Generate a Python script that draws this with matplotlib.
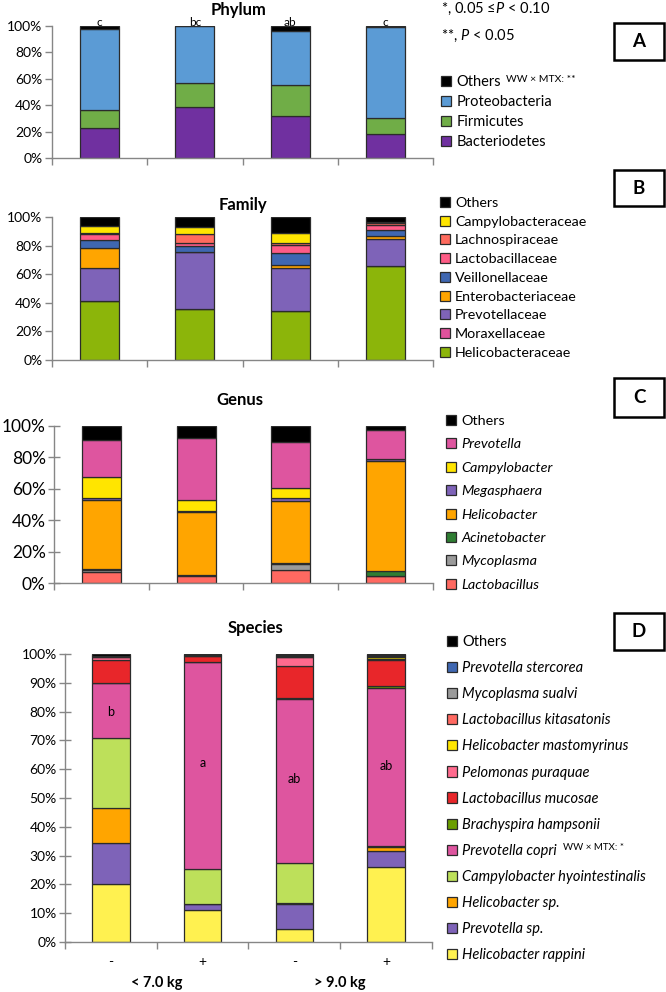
import numpy as np
import matplotlib.pyplot as plt
from matplotlib.patches import Patch, Rectangle

plt.rcParams['font.family'] = ['Lato', 'DejaVu Sans']
plt.rcParams['mathtext.fontset'] = 'custom'
plt.rcParams['mathtext.rm'] = 'Lato'
plt.rcParams['mathtext.it'] = 'Lato:italic'

# ---- data (% relative abundance, bars: <7.0 kg -, <7.0 kg +, >9.0 kg -, >9.0 kg +)
treat = ["-", "+", "-", "+"]
groups = ["< 7.0 kg", "> 9.0 kg"]

phylum_names = ["Bacteriodetes", "Firmicutes", "Proteobacteria", "Others"]
phylum_colors = ["#7030A0", "#70AD47", "#5B9BD5", "#000000"]
phylum_vals = [
    [22.7, 39.0, 31.6, 18.2],
    [13.3, 17.5, 23.4, 11.8],
    [62.0, 43.2, 41.0, 69.6],
    [2.0, 0.3, 4.0, 0.4],
]
phylum_letters = ["c", "bc", "ab", "c"]

family_names = ["Helicobacteraceae", "Moraxellaceae", "Prevotellaceae",
                "Enterobacteriaceae", "Veillonellaceae", "Lactobacillaceae",
                "Lachnospiraceae", "Campylobacteraceae", "Others"]
family_colors = ["#8CB50A", "#E0529C", "#7E63B8", "#FFA500", "#3F67B1",
                 "#FF5C86", "#FF6B5E", "#FFE500", "#000000"]
family_vals = [
    [41.0, 35.5, 34.3, 65.4],
    [0.3, 0.2, 0.2, 0.2],
    [23.0, 39.8, 29.8, 19.2],
    [14.0, 0.3, 1.9, 1.6],
    [5.5, 3.9, 8.4, 4.2],
    [4.0, 2.3, 6.0, 4.0],
    [1.3, 6.0, 1.5, 1.2],
    [4.9, 5.0, 6.6, 0.4],
    [6.0, 7.0, 11.3, 3.8],
]

genus_names = ["Lactobacillus", "Mycoplasma", "Acinetobacter", "Helicobacter",
               "Megasphaera", "Campylobacter", "Prevotella", "Others"]
genus_colors = ["#FF6961", "#9A9A9A", "#2E7D32", "#FFA500", "#7E63B8",
                "#FFE500", "#DE559F", "#000000"]
genus_vals = [
    [7.2, 4.7, 8.5, 4.2],
    [0.8, 0.2, 3.8, 0.4],
    [0.8, 0.2, 0.3, 2.8],
    [44.0, 40.4, 39.5, 70.3],
    [1.5, 0.3, 2.3, 1.2],
    [13.5, 7.2, 6.2, 0.3],
    [23.0, 39.6, 29.4, 18.3],
    [9.2, 7.4, 10.0, 2.5],
]

species_names = ["Helicobacter rappini", "Prevotella sp.", "Helicobacter sp.",
                 "Campylobacter hyointestinalis", "Prevotella copri",
                 "Brachyspira hampsonii", "Lactobacillus mucosae",
                 "Pelomonas puraquae", "Helicobacter mastomyrinus",
                 "Lactobacillus kitasatonis", "Mycoplasma sualvi",
                 "Prevotella stercorea", "Others"]
species_colors = ["#FFF150", "#7E63B8", "#FFA500", "#BDE05A", "#DE559F",
                  "#6B9E00", "#E8262A", "#FF6A8E", "#FFE500", "#FF6961",
                  "#9A9A9A", "#3F67B1", "#000000"]
species_vals = [
    [20.2, 11.1, 4.5, 26.0],
    [14.1, 2.0, 8.7, 5.5],
    [12.1, 0.2, 0.2, 1.5],
    [24.5, 12.1, 14.2, 0.3],
    [18.9, 71.8, 56.9, 55.0],
    [0.2, 0.1, 0.1, 0.7],
    [8.0, 2.0, 11.4, 9.0],
    [1.0, 0.1, 3.0, 0.3],
    [0.1, 0.2, 0.1, 0.5],
    [0.1, 0.0, 0.1, 0.3],
    [0.1, 0.0, 0.2, 0.3],
    [0.1, 0.0, 0.1, 0.1],
    [0.6, 0.4, 0.5, 0.5],
]
species_letters = ["b", "a", "ab", "ab"]
species_letter_y = [80, 62, 56.5, 61]

AX_GRAY = "#868686"
EDGE = "#2b2b2b"


def stacked(ax, names, vals, colors, ticks, tickfs, tickdir):
    x = np.arange(len(treat)) + 0.5
    bottom = np.zeros(len(treat))
    for name, v, c in zip(names, vals, colors):
        v = np.array(v) / 100
        ax.bar(x, v, 0.41, bottom=bottom, color=c, edgecolor=EDGE,
               linewidth=0.9, zorder=3)
        bottom += v
    ax.set_xlim(0, 4)
    ax.set_ylim(0, 1)
    ax.set_yticks(ticks)
    ax.set_yticklabels(["%d%%" % round(t * 100) for t in ticks], fontsize=tickfs)
    ax.set_xticks([0, 1, 2, 3, 4])
    ax.set_xticklabels([])
    for s in ["top", "right"]:
        ax.spines[s].set_visible(False)
    for s in ["left", "bottom"]:
        ax.spines[s].set_color(AX_GRAY)
        ax.spines[s].set_linewidth(1.0)
    ax.tick_params(axis="y", direction=tickdir, length=5 if tickdir == "out" else 8,
                   color=AX_GRAY, width=1.0, pad=2)
    ax.tick_params(axis="x", direction="out", length=5, color=AX_GRAY, width=1.0)
    ax.spines["bottom"].set_zorder(5)


def legend(fig, names, colors, x, y, fs, spacing, italic=False):
    h = [Patch(facecolor=c, edgecolor=EDGE, linewidth=0.9) for c in colors]
    leg = fig.legend(h[::-1], names[::-1], loc="upper left", bbox_to_anchor=(x, y),
                     bbox_transform=fig.transFigure, frameon=False, fontsize=fs,
                     borderpad=0, borderaxespad=0, handlelength=0.7,
                     handleheight=0.7, handletextpad=0.35, labelspacing=spacing)
    if italic:
        for t in leg.get_texts():
            if t.get_text() != "Others":
                t.set_fontstyle("italic")
    return leg


def boxed(fig, letter, x0, y0, x1, y1):
    fig.add_artist(Rectangle((x0 / W, 1 - y1 / H), (x1 - x0) / W, (y1 - y0) / H,
                             transform=fig.transFigure, fill=False,
                             edgecolor="black", linewidth=1.8))
    fig.text((x0 + x1) / 2 / W, 1 - (y0 + y1) / 2 / H, letter, ha="center",
             va="center", fontsize=13.5, fontweight="bold")


fig = plt.figure(figsize=(6.66, 9.92), dpi=100)
W, H = 666, 992


def axes_px(left, right, top, bottom):
    return fig.add_axes([left / W, 1 - bottom / H, (right - left) / W, (bottom - top) / H])


# A: Phylum
axA = axes_px(52, 433, 26, 158)
stacked(axA, phylum_names, phylum_vals, phylum_colors, np.arange(0, 1.01, 0.2), 10, "out")
for i, s in enumerate(phylum_letters):
    axA.text(i + 0.5, 0.985, s, ha="center", va="bottom", fontsize=8.5, zorder=6)
axA.set_title("Phylum", fontsize=12, fontweight="bold", pad=8, x=0.49)
legend(fig, phylum_names, phylum_colors, 441 / W, 1 - 75 / H, 10.5, 0.42)
fig.text(506 / W, 1 - 79 / H, "WW × MTX: **", fontsize=7.5, va="center")
fig.text(441 / W, 1 - 9 / H, "*, 0.05 ≤$P$ < 0.10", fontsize=10.5, va="center")
fig.text(441 / W, 1 - 36 / H, "**, $P$ < 0.05", fontsize=10.5, va="center")
boxed(fig, "A", 614, 23, 664, 60)

# B: Family
axB = axes_px(52, 433, 217, 360)
stacked(axB, family_names, family_vals, family_colors, np.arange(0, 1.01, 0.2), 10, "out")
axB.set_title("Family", fontsize=12, fontweight="bold", pad=5, x=0.50)
legend(fig, family_names, family_colors, 440 / W, 1 - 197 / H, 10.3, 0.47)
boxed(fig, "B", 614, 170, 664, 206)

# C: Genus
axC = axes_px(54, 433, 426, 583)
stacked(axC, genus_names, genus_vals, genus_colors, np.arange(0, 1.01, 0.2), 12.5, "inout")
axC.set_title("Genus", fontsize=12, fontweight="bold", pad=15, x=0.49)
legend(fig, genus_names, genus_colors, 446 / W, 1 - 415 / H, 10.4, 0.78, italic=True)
boxed(fig, "C", 614, 378, 664, 417)

# D: Species
axD = axes_px(65, 432, 654, 942)
stacked(axD, species_names, species_vals, species_colors, np.arange(0, 1.01, 0.1), 10, "inout")
for i, s in enumerate(species_letters):
    axD.text(i + 0.5, species_letter_y[i] / 100, s, ha="center", va="center",
             fontsize=9, zorder=6)
for i, s in enumerate(treat):
    axD.text(i + 0.5, -0.07, s, ha="center", va="center", fontsize=10,
             transform=axD.get_xaxis_transform())
for i, g in enumerate(groups):
    axD.text(2 * i + 1, -0.143, g, ha="center", va="center", fontsize=10.5,
             fontweight="bold", transform=axD.get_xaxis_transform())
axD.set_title("Species", fontsize=12, fontweight="bold", pad=15, x=0.52)
legend(fig, species_names, species_colors, 447 / W, 1 - 635 / H, 10.5, 0.83, italic=True)
fig.text(563 / W, 1 - 847 / H, "WW × MTX: *", fontsize=7, va="center")
boxed(fig, "D", 614, 613, 664, 650)

fig.savefig("out.png", dpi=100)
plt.close(fig)
